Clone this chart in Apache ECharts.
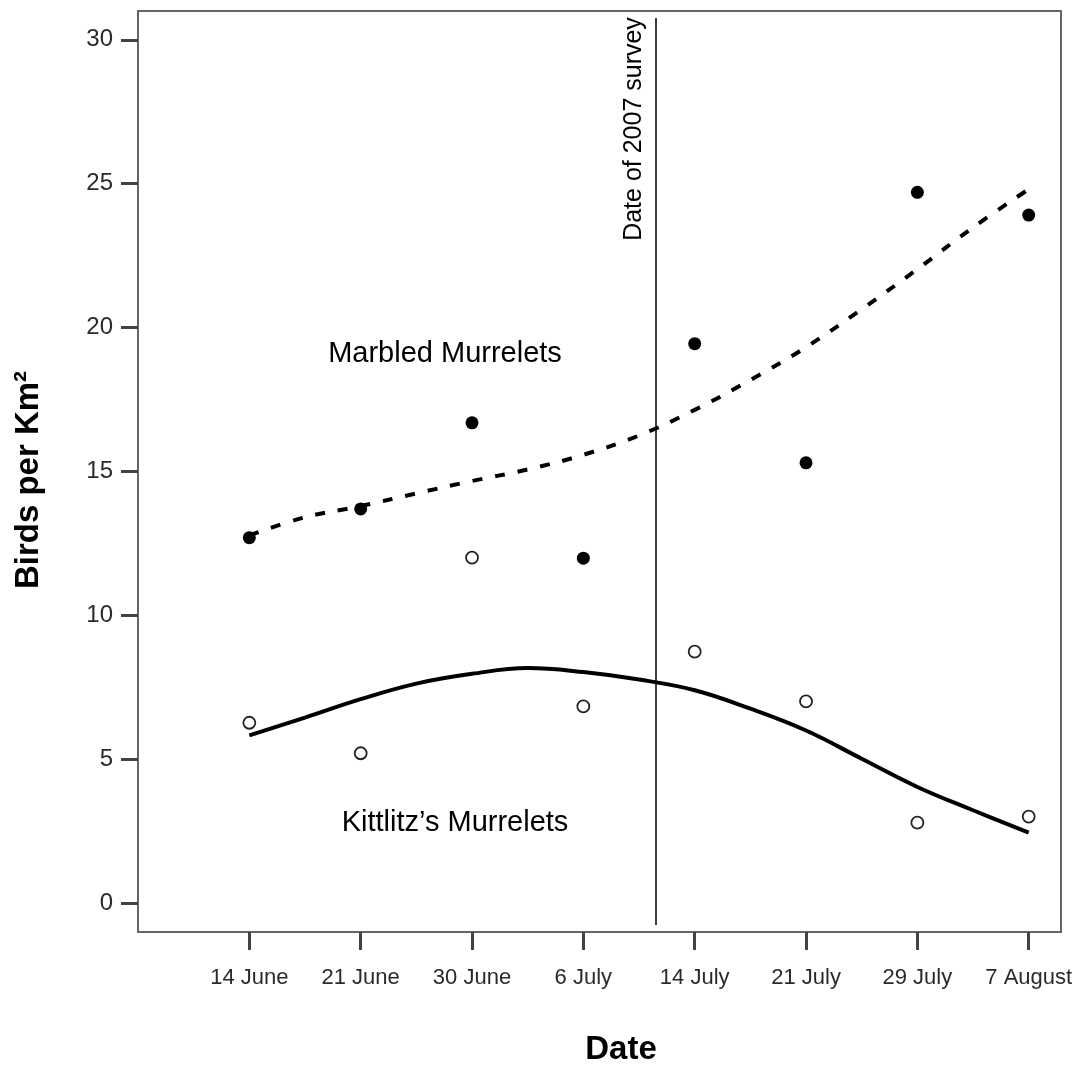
<!DOCTYPE html>
<html>
<head>
<meta charset="utf-8">
<script src="https://cdn.jsdelivr.net/npm/echarts@6/dist/echarts.min.js"></script>
<style>
html,body{margin:0;padding:0;background:#fff;}
#chart{width:1081px;height:1067px;}
</style>
</head>
<body>
<div id="chart"></div>
<script>
const categories = ['14 June', '21 June', '30 June', '6 July', '14 July', '21 July', '29 July', '7 August'];
const yTicks = [0, 5, 10, 15, 20, 25, 30];
const marbled = [12.70, 13.70, 16.69, 11.99, 19.44, 15.30, 24.70, 23.91];
const kittlitz = [6.27, 5.21, 12.01, 6.84, 8.74, 7.01, 2.80, 3.01];
const fitPositions = [0, 0.5, 1, 1.5, 2, 2.5, 3, 3.5, 4, 4.5, 5, 5.5, 6, 6.5, 7];
const marbledFit = [12.78, 13.41, 13.80, 14.24, 14.67, 15.07, 15.58, 16.25, 17.14, 18.18, 19.32, 20.64, 22.03, 23.48, 24.81];
const kittlitzFit = [5.83, 6.45, 7.09, 7.63, 7.97, 8.17, 8.03, 7.77, 7.40, 6.76, 6.00, 5.02, 4.04, 3.23, 2.45];
const surveyPosition = 3.65;
const surveyExtent = [-0.76, 30.76];

const FONT = "'Liberation Sans', Arial, sans-serif";
const pts = arr => arr.map((v, i) => [i, v]);
const fitPts = arr => arr.map((v, i) => [fitPositions[i], v]);

const chart = echarts.init(document.getElementById('chart'), null, {renderer: 'canvas'});
chart.setOption({
  animation: false,
  backgroundColor: '#ffffff',
  grid: {
    left: 138, right: 20, top: 11, bottom: 135,
    show: true, borderColor: '#666666', borderWidth: 2, backgroundColor: 'transparent'
  },
  xAxis: {
    type: 'value', min: -1, max: 7.29,
    axisLine: {show: false, onZero: false},
    splitLine: {show: false},
    axisTick: {show: true, customValues: categories.map((c, i) => i), length: 18, lineStyle: {color: '#444', width: 3}},
    axisLabel: {
      customValues: categories.map((c, i) => i),
      formatter: v => categories[Math.round(v)],
      margin: 35, fontSize: 22, color: '#2a2a2a', fontFamily: FONT
    }
  },
  yAxis: {
    type: 'value', min: -1, max: 31,
    axisLine: {show: false, onZero: false},
    splitLine: {show: false},
    axisTick: {show: true, customValues: yTicks, length: 17, lineStyle: {color: '#444', width: 3}},
    axisLabel: {customValues: yTicks, margin: 25, fontSize: 24, color: '#2a2a2a', fontFamily: FONT}
  },
  series: [
    {
      name: 'Marbled fit', type: 'line', data: fitPts(marbledFit), smooth: 0.4,
      showSymbol: false, symbol: 'none',
      lineStyle: {color: '#000', width: 4, type: [10, 13], cap: 'butt'},
      markLine: {
        silent: true, symbol: 'none', label: {show: false},
        lineStyle: {color: '#000', width: 1.5, type: 'solid'},
        data: [[{coord: [surveyPosition, surveyExtent[0]]}, {coord: [surveyPosition, surveyExtent[1]]}]]
      }
    },
    {
      name: 'Kittlitz fit', type: 'line', data: fitPts(kittlitzFit), smooth: 0.4,
      showSymbol: false, symbol: 'none',
      lineStyle: {color: '#000', width: 4, type: 'solid'}
    },
    {
      name: 'Marbled Murrelets', type: 'scatter', data: pts(marbled),
      symbol: 'circle', symbolSize: 13,
      itemStyle: {color: '#000', opacity: 1}
    },
    {
      name: "Kittlitz's Murrelets", type: 'scatter', data: pts(kittlitz),
      symbol: 'circle', symbolSize: 12,
      itemStyle: {color: '#fff', borderColor: '#222', borderWidth: 1.8, opacity: 1}
    }
  ],
  graphic: [
    {type: 'text', x: 445, y: 354, style: {text: 'Marbled Murrelets', fontSize: 29, fontFamily: FONT, fill: '#000', textAlign: 'center', textVerticalAlign: 'middle'}},
    {type: 'text', x: 455, y: 823, style: {text: 'Kittlitz\u2019s Murrelets', fontSize: 29, fontFamily: FONT, fill: '#000', textAlign: 'center', textVerticalAlign: 'middle'}},
    {type: 'text', x: 634, y: 129, rotation: Math.PI / 2, style: {text: 'Date of 2007 survey', fontSize: 25, fontFamily: FONT, fill: '#000', textAlign: 'center', textVerticalAlign: 'middle'}},
    {type: 'text', x: 29, y: 480, rotation: Math.PI / 2, style: {text: 'Birds per Km\u00b2', fontSize: 33, fontWeight: 'bold', fontFamily: FONT, fill: '#000', textAlign: 'center', textVerticalAlign: 'middle'}},
    {type: 'text', x: 621, y: 1050, style: {text: 'Date', fontSize: 33, fontWeight: 'bold', fontFamily: FONT, fill: '#000', textAlign: 'center', textVerticalAlign: 'middle'}}
  ]
});
</script>
</body>
</html>
